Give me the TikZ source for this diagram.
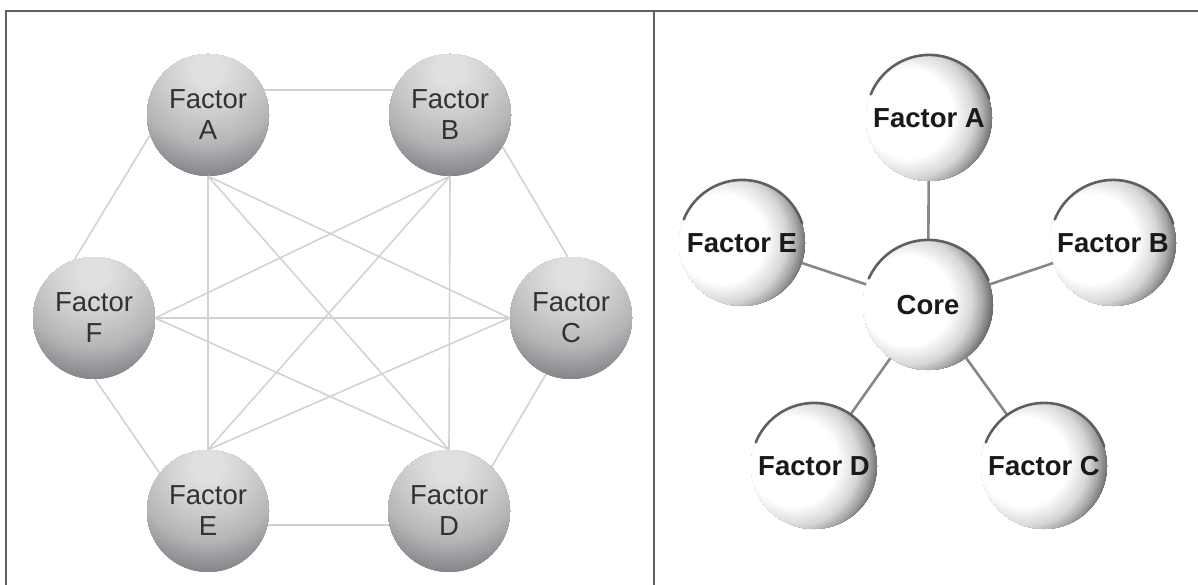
\documentclass[tikz,border=0pt]{standalone}
\usepackage{fontspec}
\setmainfont{Liberation Sans}

% colours
\definecolor{framegray}{RGB}{95,95,95}
\definecolor{meshgray}{RGB}{210,210,210}
\definecolor{spokegray}{RGB}{135,135,135}
\definecolor{rimgray}{RGB}{95,95,95}
\definecolor{lefttext}{RGB}{50,50,54}
\definecolor{righttext}{RGB}{25,25,25}
\definecolor{ballhi}{RGB}{224,224,224}
\definecolor{balllo}{RGB}{118,118,124}
\definecolor{spherelo}{RGB}{105,105,105}

% grey ball lit from above: rings of colour round a highlight near the top
\newcommand\greyshade[2]{%
  \begin{scope}
    \clip (#1) circle[radius=#2];
    \foreach \d in {108,107,...,16}{
      \pgfmathsetmacro\p{min(100, \d>76 ? 41+(\d-76)*1.47 : (\d>45 ? 17+(\d-45)*0.77 : (\d-15)*0.57))}
      \fill[balllo!\p!ballhi] ([shift={(0pt,45pt)}]#1) circle[radius=\d pt];
    }
    \fill[ballhi] ([shift={(0pt,45pt)}]#1) circle[radius=15pt];
  \end{scope}}

% white sphere lit from the upper left, shadowed towards the lower right
\newcommand\litshade[2]{%
  \begin{scope}
    \clip (#1) circle[radius=#2];
    \fill[white] (#1) circle[radius=#2];
    \foreach \d in {90,89,...,46}{
      \pgfmathsetmacro\p{min(100, \d>75 ? 57+(\d-75)*4 : (\d>65 ? 27+(\d-65)*3 : (\d-45)*1.35))}
      \fill[spherelo!\p!white] ([shift={(-20pt,4pt)}]#1) circle[radius=\d pt];
    }
    \fill[white] ([shift={(-20pt,4pt)}]#1) circle[radius=45pt];
  \end{scope}}

\tikzset{
  frameline/.style={draw=framegray, line width=2pt},
  mesh/.style={draw=meshgray, line width=1.6pt},
  spoke/.style={draw=spokegray, line width=2.6pt},
  greynode/.style={circle, minimum size=122pt, inner sep=0pt,
    text=lefttext, align=center, font=\fontsize{27.5}{31}\selectfont},
  litnode/.style={circle, minimum size=126pt, inner sep=0pt,
    text=righttext, font=\fontsize{27.5}{31}\selectfont\bfseries},
  rim/.style={draw=rimgray, line width=2.6pt, line cap=round}
}

\begin{document}
\begin{tikzpicture}[x=1pt,y=-1pt]
\useasboundingbox (0,0) rectangle (1198,585);

% panel frame
\draw[frameline] (6,585) -- (6,11) -- (1198,11);
\draw[frameline] (654,11) -- (654,585);

% ---- left panel: every factor linked to every other ----
\coordinate (pA) at (208,115);
\coordinate (pB) at (450,115);
\coordinate (pF) at (94,318);
\coordinate (pC) at (571,318);
\coordinate (pE) at (208,511);
\coordinate (pD) at (449,511);
\foreach \c in {pA,pB,pF,pC,pE,pD} \greyshade{\c}{61pt};

\node[greynode] (A) at (pA) {Factor\\A};
\node[greynode] (B) at (pB) {Factor\\B};
\node[greynode] (F) at (pF) {Factor\\F};
\node[greynode] (C) at (pC) {Factor\\C};
\node[greynode] (E) at (pE) {Factor\\E};
\node[greynode] (D) at (pD) {Factor\\D};

% outer ring
\draw[mesh] (A.24)  -- (B.156);
\draw[mesh] (A.199) -- (F.109);
\draw[mesh] (B.-31) -- (C.93);
\draw[mesh] (F.-89) -- (E.142);
\draw[mesh] (C.246) -- (D.46);
\draw[mesh] (E.-13) -- (D.193);
% inner links
\draw[mesh] (A.south) -- (E.north);
\draw[mesh] (A.south) -- (D.north);
\draw[mesh] (A.south) -- (C.west);
\draw[mesh] (B.south) -- (F.east);
\draw[mesh] (B.south) -- (E.north);
\draw[mesh] (B.south) -- (D.north);
\draw[mesh] (F.east)  -- (C.west);
\draw[mesh] (F.east)  -- (D.north);
\draw[mesh] (C.west)  -- (E.north);

% ---- right panel: factors around a core ----
\coordinate (pcore) at (928,305);
\coordinate (pfa) at (929,118);
\coordinate (pfb) at (1113,243);
\coordinate (pfc) at (1044,466);
\coordinate (pfd) at (814,466);
\coordinate (pfe) at (742,243);
\litshade{pcore}{65pt}
\foreach \c in {pfa,pfb,pfc,pfd,pfe} \litshade{\c}{63pt};

\node[litnode, minimum size=130pt] (core) at (pcore) {Core};
\node[litnode] (fa) at (pfa) {Factor A};
\node[litnode] (fb) at (pfb) {Factor B};
\node[litnode] (fc) at (pfc) {Factor C};
\node[litnode] (fd) at (pfd) {Factor D};
\node[litnode] (fe) at (pfe) {Factor E};

\foreach \f in {fa,fb,fc,fd,fe}
  \draw[spoke] (core) -- (\f);

% dark rims along the tops of the spheres
\foreach \f in {fa,fb,fc,fd,fe}
  \draw[rim] (\f.18) arc[start angle=18, end angle=158, radius=63pt];
\draw[rim] (core.22) arc[start angle=22, end angle=156, radius=65pt];
\end{tikzpicture}
\end{document}
